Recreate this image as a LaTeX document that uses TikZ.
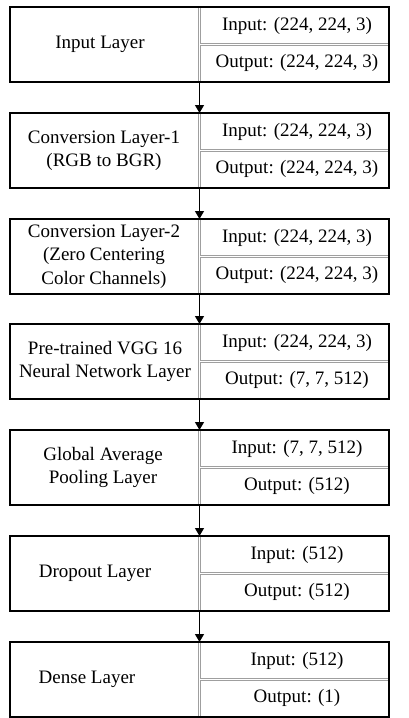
\documentclass[tikz,border=0pt]{standalone}
\usepackage{fontspec}
\setmainfont{Liberation Serif}
\usetikzlibrary{arrows.meta}
\begin{document}
\begin{tikzpicture}[x=1pt,y=-1pt,
  layerbox/.style={draw=black,line width=1.5pt,minimum width=379pt,
    minimum height=75pt,inner sep=0pt,outer sep=0pt},
  divider/.style={draw=gray!75,line width=0.9pt,double=white,
    double distance=1.5pt},
  label/.style={font=\fontsize{19}{23.5}\selectfont,align=center,inner sep=0pt},
  flow/.style={draw=black,line width=1.3pt,-{Triangle[width=9pt,length=8pt]}}]
\useasboundingbox (0,0) rectangle (409,718);

% one row per layer: index / top edge / label x / label / input shape / output shape
\foreach \k/\ty/\lx/\lab/\inp/\outp in {
  1/7/100/{Input Layer}/{Input: (224, 224, 3)}/{Output: (224, 224, 3)},
  2/113/104/{Conversion Layer-1\\(RGB to BGR)}/{Input: (224, 224, 3)}/{Output: (224, 224, 3)},
  3/219/104/{Conversion Layer-2\\(Zero Centering\\Color Channels)}/{Input: (224, 224, 3)}/{Output: (224, 224, 3)},
  4/324/105/{Pre-trained VGG 16\\Neural Network Layer}/{Input: (224, 224, 3)}/{Output: (7, 7, 512)},
  5/430/103/{Global Average\\Pooling Layer}/{Input: (7, 7, 512)}/{Output: (512)},
  6/536/95/{Dropout Layer}/{Input: (512)}/{Output: (512)},
  7/642/87/{Dense Layer}/{Input: (512)}/{Output: (1)}}{
  \node[layerbox] (box\k) at (199.5,\ty+37.5) {};
  % double rules splitting the name from the shapes
  \draw[divider] ([yshift=-0.75pt]box\k.north) -- ([yshift=0.75pt]box\k.south);
  \draw[divider] ([xshift=0.75pt]box\k.center) -- ([xshift=-0.75pt]box\k.east);
  \node[label] (lab\k) at (\lx,\ty+37.5) {\lab};
  \node[label] (in\k) at (297,\ty+18.75) {\inp};
  \node[label] (out\k) at (297,\ty+56.25) {\outp};
}

\foreach \k [evaluate=\k as \j using int(\k+1)] in {1,...,6}{
  \draw[flow] (box\k.south) -- (box\j.north);
}
\end{tikzpicture}
\end{document}
